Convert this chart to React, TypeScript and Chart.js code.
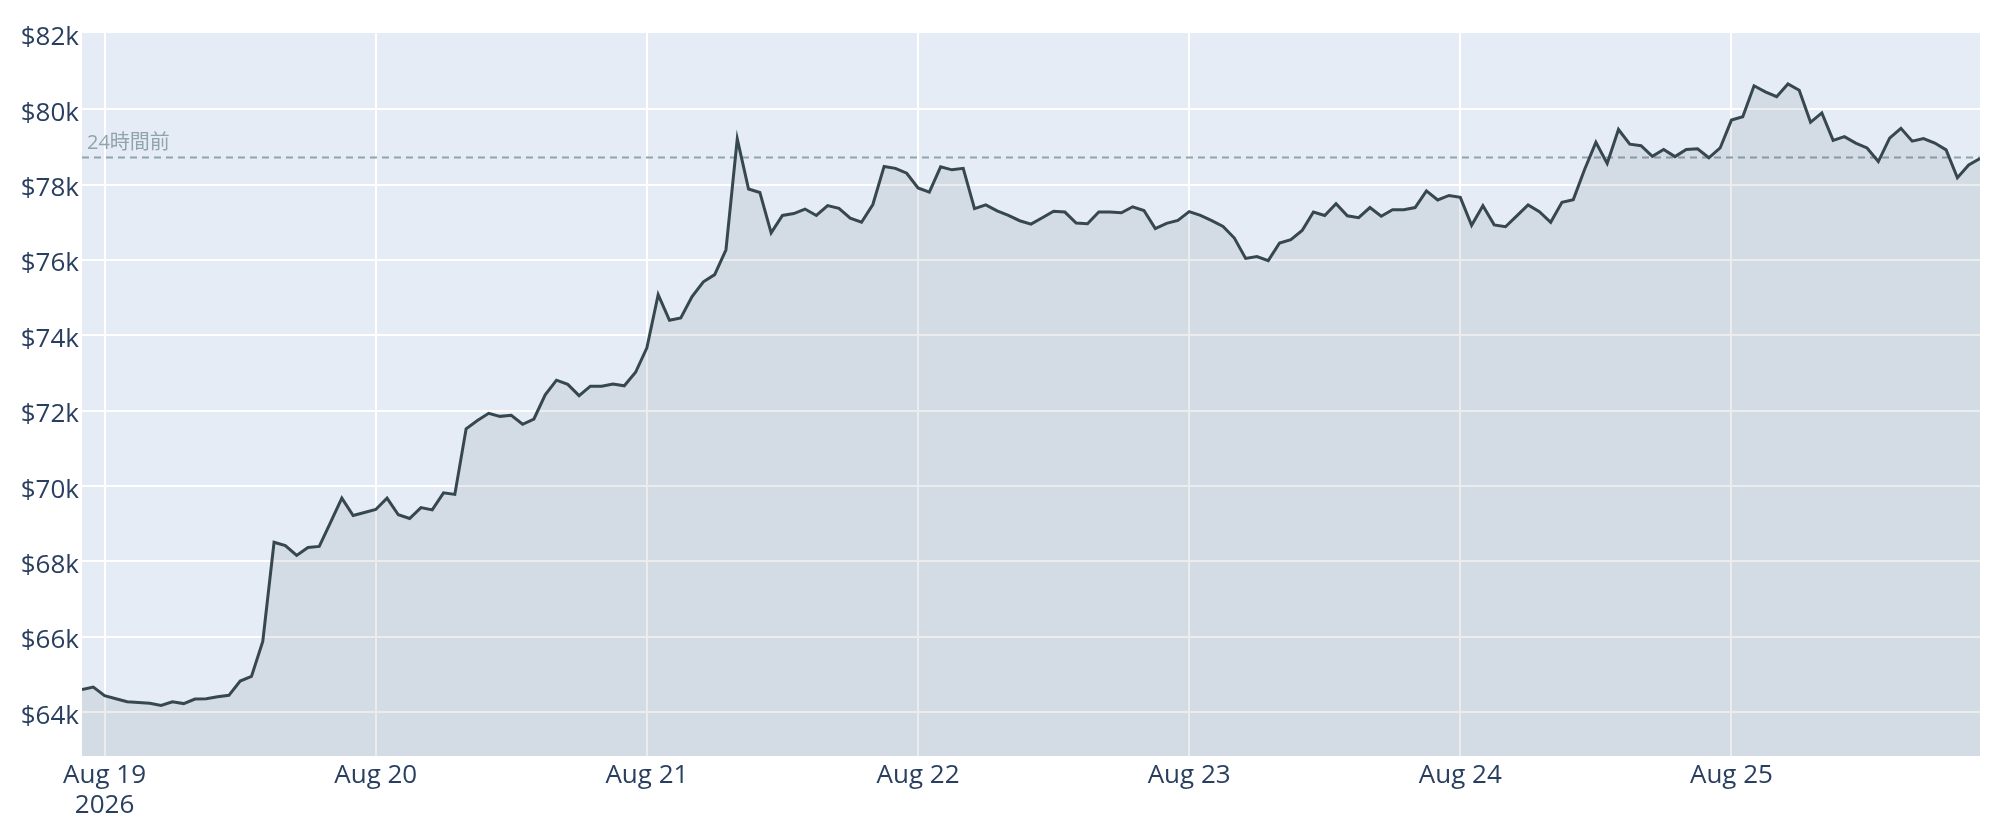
import React, { useEffect, useRef } from 'react';
import { Chart, registerables } from 'chart.js';

Chart.register(...registerables);

// hourly price in $k, Aug 18 22:00 -> Aug 25 22:00
const PRICE_K = [
  64.6, 64.67, 64.44, 64.36, 64.28, 64.26, 64.24, 64.18, 64.28, 64.23, 64.35, 64.36,
  64.41, 64.45, 64.83, 64.95, 65.88, 68.51, 68.42, 68.16, 68.37, 68.4, 69.04, 69.68,
  69.22, 69.3, 69.38, 69.68, 69.24, 69.14, 69.43, 69.37, 69.82, 69.78, 71.52, 71.74,
  71.93, 71.85, 71.88, 71.64, 71.78, 72.42, 72.81, 72.7, 72.4, 72.65, 72.65, 72.71,
  72.66, 73.02, 73.67, 75.08, 74.4, 74.46, 75.03, 75.42, 75.61, 76.27, 79.21, 77.88,
  77.79, 76.72, 77.18, 77.23, 77.35, 77.18, 77.44, 77.37, 77.11, 77.0, 77.47, 78.48,
  78.43, 78.3, 77.91, 77.8, 78.47, 78.39, 78.43, 77.36, 77.46, 77.3, 77.18, 77.04,
  76.95, 77.12, 77.29, 77.27, 76.98, 76.96, 77.27, 77.27, 77.25, 77.41, 77.31, 76.83,
  76.97, 77.05, 77.28, 77.18, 77.04, 76.89, 76.58, 76.04, 76.09, 75.98, 76.45, 76.54,
  76.78, 77.27, 77.18, 77.49, 77.17, 77.12, 77.39, 77.16, 77.33, 77.33, 77.39, 77.83,
  77.59, 77.71, 77.66, 76.92, 77.44, 76.93, 76.88, 77.17, 77.46, 77.28, 77.0, 77.53,
  77.6, 78.4, 79.12, 78.56, 79.46, 79.07, 79.03, 78.75, 78.93, 78.74, 78.93, 78.95,
  78.71, 78.97, 79.71, 79.8, 80.62, 80.46, 80.33, 80.67, 80.5, 79.65, 79.9, 79.17,
  79.27, 79.1, 78.97, 78.61, 79.23, 79.49, 79.15, 79.22, 79.1, 78.92, 78.18, 78.52,
  78.69,
];
const FIRST_HOUR = -2; // hours relative to Aug 19 00:00
const DAY_TICKS = [0, 24, 48, 72, 96, 120, 144];
const DAY_LABELS = ['Aug 19', 'Aug 20', 'Aug 21', 'Aug 22', 'Aug 23', 'Aug 24', 'Aug 25'];
const YEAR_LABEL = '2026';
const Y_TICKS = [64, 66, 68, 70, 72, 74, 76, 78, 80, 82];
const REF_24H_K = 78.72;
const REF_LABEL = '24時間前';

const FONT = '"Open Sans", "Noto Sans CJK JP", sans-serif';
const TEXT = '#2a3f5f';

const plotDecor = {
  id: 'plotDecor',
  beforeDraw(chart: any) {
    const { ctx, chartArea: a } = chart;
    ctx.save();
    ctx.fillStyle = '#E5ECF6';
    ctx.fillRect(a.left, a.top, a.right - a.left, a.bottom - a.top);
    ctx.restore();
  },
  afterDatasetsDraw(chart: any) {
    const { ctx, chartArea: a, scales } = chart;
    const y = scales.y.getPixelForValue(REF_24H_K);
    ctx.save();
    ctx.font = `20px ${FONT}`;
    ctx.fillStyle = '#90A4AE';
    ctx.textBaseline = 'alphabetic';
    ctx.textAlign = 'left';
    ctx.fillText(REF_LABEL, a.left + 5, y - 8);
    ctx.restore();
  },
};

export default function App() {
  const canvasRef = useRef<HTMLCanvasElement>(null);

  useEffect(() => {
    if (!canvasRef.current) return;
    const lastHour = FIRST_HOUR + PRICE_K.length - 1;
    const chart = new Chart(canvasRef.current, {
      type: 'line',
      data: {
        datasets: [
          {
            data: PRICE_K.map((p, i) => ({ x: FIRST_HOUR + i, y: p })),
            borderColor: '#37474F',
            borderWidth: 3,
            backgroundColor: 'rgba(55,71,79,0.1)',
            fill: 'start',
            pointRadius: 0,
            tension: 0,
          },
          {
            data: [
              { x: FIRST_HOUR, y: REF_24H_K },
              { x: lastHour, y: REF_24H_K },
            ],
            borderColor: '#90A4AE',
            borderWidth: 2,
            borderDash: [7, 5],
            pointRadius: 0,
            fill: false,
          },
        ],
      },
      options: {
        animation: false,
        responsive: true,
        maintainAspectRatio: false,
        layout: { padding: { top: 33, right: 20, left: 0, bottom: 0 } },
        plugins: { legend: { display: false }, tooltip: { enabled: false } },
        scales: {
          x: {
            type: 'linear',
            min: FIRST_HOUR,
            max: lastHour,
            afterBuildTicks: (s: any) => {
              s.ticks = DAY_TICKS.map((v) => ({ value: v }));
            },
            afterFit: (s: any) => {
              s.height = 84;
            },
            border: { display: false },
            grid: { color: '#ffffff', lineWidth: 2, drawTicks: false },
            ticks: {
              padding: 5,
              autoSkip: false,
              maxRotation: 0,
              color: TEXT,
              font: { family: FONT, size: 26, lineHeight: 1.15 },
              callback: (_v: any, i: number) => (i === 0 ? [DAY_LABELS[0], YEAR_LABEL] : DAY_LABELS[i]),
            },
          },
          y: {
            type: 'linear',
            min: 62.84,
            max: 82.02,
            afterBuildTicks: (s: any) => {
              s.ticks = Y_TICKS.map((v) => ({ value: v }));
            },
            afterFit: (s: any) => {
              s.width = 82;
            },
            border: { display: false },
            grid: {
              color: (c: any) => (c.tick && c.tick.value === 82 ? 'rgba(0,0,0,0)' : '#ffffff'),
              lineWidth: 2,
              drawTicks: false,
            },
            ticks: {
              padding: 3,
              labelOffset: 4,
              color: TEXT,
              font: { family: FONT, size: 26 },
              callback: (v: any) => '$' + v + 'k',
            },
          },
        },
      },
      plugins: [plotDecor],
    });
    return () => {
      chart.destroy();
    };
  }, []);

  return (
    <div style={{ position: 'fixed', left: 0, top: 0, width: 2000, height: 840, background: '#fff' }}>
      <canvas ref={canvasRef} />
    </div>
  );
}
